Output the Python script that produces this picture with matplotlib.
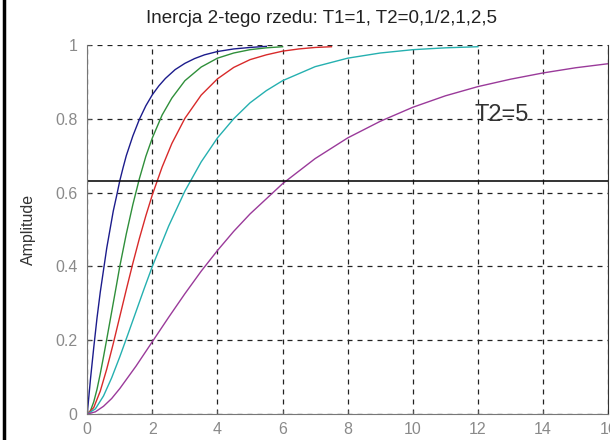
import matplotlib
matplotlib.use("Agg")
import matplotlib.pyplot as plt
from matplotlib.lines import Line2D

plt.rcParams['font.family'] = ['Liberation Sans', 'DejaVu Sans']

t_T2_0 = [0, 0.1, 0.2, 0.3, 0.4, 0.5, 0.6, 0.7, 0.8, 0.9, 1, 1.1, 1.2, 1.4, 1.6, 1.8,
          2, 2.2, 2.4, 2.7, 3, 3.3, 3.6, 4, 4.5, 5, 5.5]
y_T2_0 = [0, 0.095, 0.18, 0.26, 0.33, 0.39, 0.45, 0.50, 0.55, 0.59, 0.632, 0.667,
          0.70, 0.753, 0.798, 0.835, 0.865, 0.889, 0.909, 0.933, 0.95, 0.963, 0.973,
          0.982, 0.989, 0.993, 0.996]

t_T2_05 = [0, 0.1, 0.2, 0.3, 0.4, 0.5, 0.6, 0.7, 0.8, 0.9, 1, 1.2, 1.4, 1.6, 1.8, 2,
           2.3, 2.6, 3, 3.5, 4, 4.5, 5, 5.5, 6]
y_T2_05 = [0, 0.009, 0.033, 0.067, 0.109, 0.155, 0.203, 0.252, 0.301, 0.35, 0.40,
           0.488, 0.567, 0.637, 0.698, 0.748, 0.81, 0.856, 0.903, 0.94, 0.964, 0.978,
           0.987, 0.992, 0.995]

t_T2_1 = [0, 0.2, 0.4, 0.6, 0.8, 1, 1.2, 1.4, 1.6, 1.8, 2, 2.3, 2.6, 3, 3.5, 4, 4.5,
          5, 5.5, 6, 6.5, 7, 7.5]
y_T2_1 = [0, 0.0175, 0.062, 0.122, 0.191, 0.264, 0.337, 0.408, 0.475, 0.537, 0.594,
          0.669, 0.733, 0.801, 0.864, 0.908, 0.939, 0.96, 0.973, 0.983, 0.989, 0.993,
          0.995]

t_T2_2 = [0, 0.25, 0.5, 0.75, 1, 1.25, 1.5, 1.75, 2, 2.5, 3, 3.5, 4, 4.5, 5, 5.5, 6,
          7, 8, 9, 10, 11, 12]
y_T2_2 = [0, 0.014, 0.049, 0.098, 0.155, 0.216, 0.278, 0.34, 0.40, 0.509, 0.604,
          0.683, 0.748, 0.80, 0.843, 0.876, 0.903, 0.941, 0.964, 0.978, 0.987, 0.992,
          0.995]

t_T2_5 = [0, 0.25, 0.5, 0.75, 1, 1.5, 2, 2.5, 3, 3.5, 4, 4.5, 5, 6, 7, 8, 9, 10, 11,
          12, 13, 14, 15, 16]
y_T2_5 = [0, 0.006, 0.021, 0.042, 0.069, 0.13, 0.196, 0.262, 0.326, 0.387, 0.443,
          0.495, 0.542, 0.624, 0.692, 0.748, 0.793, 0.831, 0.862, 0.887, 0.907,
          0.924, 0.938, 0.949]

level = 0.632
x_ticks = [0, 2, 4, 6, 8, 10, 12, 14, 16]
y_ticks = [0, 0.2, 0.4, 0.6, 0.8, 1]

curves = [
    (t_T2_0, y_T2_0, '#1c1c8c'),
    (t_T2_05, y_T2_05, '#2f8f3a'),
    (t_T2_1, y_T2_1, '#d82a2a'),
    (t_T2_2, y_T2_2, '#25b0b0'),
    (t_T2_5, y_T2_5, '#9a3a9a'),
]

fig = plt.figure(figsize=(6.1, 4.4), dpi=100)
ax = fig.add_axes([0.143, 0.059, 0.854, 0.839])

for t, y, c in curves:
    ax.plot(t, y, color=c, lw=1.0)

ax.axhline(level, color='#101010', lw=1.2)

ax.set_xlim(0, 16)
ax.set_ylim(0, 1)
ax.set_xticks(x_ticks)
ax.set_yticks(y_ticks)
ax.set_xticklabels([str(v) for v in x_ticks])
ax.set_yticklabels(['0', '0.2', '0.4', '0.6', '0.8', '1'])
ax.tick_params(direction='in', length=3, labelsize=11.5, colors='#555555',
               labelcolor='#8a8a8a')
ax.tick_params(axis='x', pad=6)
ax.tick_params(axis='y', pad=7)
ax.grid(True, color='#222222', linestyle=(0, (4, 4)), lw=0.9)

ax.spines['top'].set_visible(False)
for s in ['left', 'bottom']:
    ax.spines[s].set_color('#777777')
ax.spines['right'].set_color('#333333')

ax.set_ylabel('Amplitude', fontsize=11.5, color='#333333', labelpad=14)
fig.text(0.527, 0.958, 'Inercja 2-tego rzedu: T1=1, T2=0,1/2,1,2,5',
         ha='center', va='center', fontsize=13.5, color='#222222')
ax.text(11.9, 0.81, 'T2=5', fontsize=17, color='#333333', va='center', ha='left')

# frame edge on the left side of the image
fig.add_artist(Line2D([0.007, 0.007], [0, 1], color='black', lw=2.5,
                      transform=fig.transFigure))

fig.savefig('out.png', dpi=100)
